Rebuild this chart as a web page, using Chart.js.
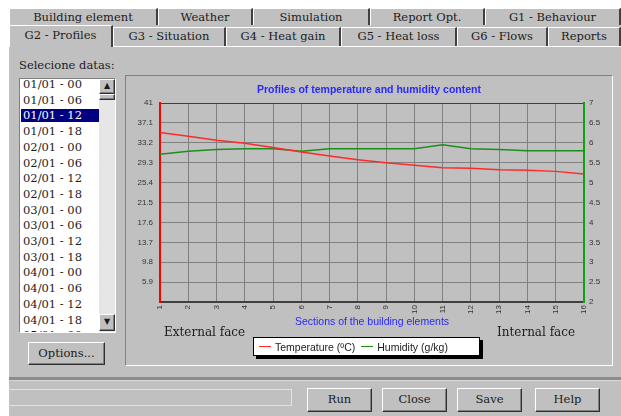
<!DOCTYPE html>
<html>
<head>
<meta charset="utf-8">
<script src="https://cdn.jsdelivr.net/npm/chart.js@4.4.1/dist/chart.umd.min.js"></script>
<style>
  body { margin: 0; width: 621px; height: 416px; background: #fff; position: relative; overflow: hidden;
         font-family: 'DejaVu Serif', serif; font-size: 12px; color: #1c1c1c; }
  .a { position: absolute; box-sizing: border-box; }
  #win { left: 9px; top: 8px; width: 612px; height: 408px; background: #c0c0c0; }
  .tab { position: absolute; box-sizing: border-box; border-left: 1px solid #fff; border-top: 1px solid #fff;
         border-right: 2px solid #404040; text-align: center; font-size: 11.5px; white-space: nowrap; }
  .btn { position: absolute; box-sizing: border-box; background: #c0c0c0; border: 1px solid;
         border-color: #fff #303030 #303030 #fff; box-shadow: inset -1px -1px 0 #808080;
         text-align: center; line-height: 21px; font-size: 11.5px; }
  #list { left: 19px; top: 78px; width: 97px; height: 255px; background: #fff; overflow: hidden;
          border: 1px solid; border-color: #808080 #fff #fff #808080; }
  .item { position: absolute; left: 1px; width: 77px; height: 13px; line-height: 13px; padding-left: 2px; font-size: 11.5px; }
  .item.sel { background: #000080; color: #fff; }
  #legend { left: 253px; top: 337px; width: 227px; height: 19px; background: #fff; border: 1px solid #000;
            box-shadow: 3px 3px 0 #000; display: flex; align-items: center; padding-left: 5px;
            font-family: 'Liberation Sans', sans-serif; font-size: 10.5px; color: #222; }
  #legend .sw { width: 12px; height: 1px; margin-right: 4px; }
  #legend .it { display: flex; align-items: center; margin-right: 6px; }
</style>
</head>
<body>
<div id="win" class="a"></div>
<div id="tabs"></div>
<div class="a" style="left:113px;top:46px;width:508px;height:1px;background:#fff"></div>

<div class="a" style="left:19px;top:58px;font-size:11.5px">Selecione datas:</div>
<div id="list" class="a"></div>
<div class="a" style="left:99px;top:79px;width:16px;height:253px;background:#e6e6e6"></div>
<div class="btn" style="left:99px;top:79px;width:16px;height:15px;line-height:12px;font-size:8px">&#9650;</div>
<div class="btn" style="left:99px;top:94px;width:16px;height:6px"></div>
<div class="btn" style="left:99px;top:314px;width:16px;height:17px;line-height:14px;font-size:8px">&#9660;</div>
<div class="btn" style="left:28px;top:342px;width:77px;height:23px">Options...</div>

<div class="a" style="left:125px;top:75px;width:488px;height:291px;border:1px solid;border-color:#808080 #fff #fff #808080"></div>
<canvas id="chart" class="a" width="484" height="286" style="left:127px;top:77px"></canvas>
<div class="a" style="left:164px;top:325px">External face</div>
<div class="a" style="left:497px;top:325px">Internal face</div>
<div id="legend" class="a"></div>

<div class="a" style="left:9px;top:377px;width:612px;height:3px;background:#8c8c8c"></div>
<div class="a" style="left:9px;top:380px;width:612px;height:1px;background:#d8d8d8"></div>
<div class="a" style="left:9px;top:389px;width:283px;height:17px;border:1px solid #e2e2e2;border-left:none"></div>
<div class="btn" style="left:307px;top:388px;width:65px;height:24px">Run</div>
<div class="btn" style="left:382px;top:388px;width:65px;height:24px">Close</div>
<div class="btn" style="left:457px;top:388px;width:65px;height:24px">Save</div>
<div class="btn" style="left:535px;top:388px;width:65px;height:24px">Help</div>

<script>
// chart data
const sections = ['1', '2', '3', '4', '5', '6', '7', '8', '9', '10', '11', '12', '13', '14', '15', '16'];
const temperature = [35.2, 34.5, 33.7, 33.1, 32.3, 31.4, 30.6, 29.9, 29.3, 28.8, 28.3, 28.2, 27.9, 27.8, 27.6, 27.1];
const humidity = [5.71, 5.79, 5.83, 5.85, 5.85, 5.79, 5.85, 5.85, 5.85, 5.85, 5.95, 5.85, 5.83, 5.80, 5.80, 5.80];
const tempTicks = [5.9, 9.8, 13.7, 17.6, 21.5, 25.4, 29.3, 33.2, 37.1, 41];
const humTicks = [2, 2.5, 3, 3.5, 4, 4.5, 5, 5.5, 6, 6.5, 7];

// window widgets
const tabsRow1 = [['Building element', 9, 158], ['Weather', 158, 253], ['Simulation', 253, 370],
                  ['Report Opt.', 370, 485], ['G1 - Behaviour', 485, 621]];
const tabsRow2 = [['G2 - Profiles', 9, 113], ['G3 - Situation', 113, 226], ['G4 - Heat gain', 226, 341],
                  ['G5 - Heat loss', 341, 457], ['G6 - Flows', 457, 548], ['Reports', 548, 621]];
const dates = ['01/01 - 00', '01/01 - 06', '01/01 - 12', '01/01 - 18', '02/01 - 00', '02/01 - 06',
               '02/01 - 12', '02/01 - 18', '03/01 - 00', '03/01 - 06', '03/01 - 12', '03/01 - 18',
               '04/01 - 00', '04/01 - 06', '04/01 - 12', '04/01 - 18', '05/01 - 00'];

const tabs = document.getElementById('tabs');
tabsRow1.forEach(function(t) {
    const d = document.createElement('div');
    d.className = 'tab';
    d.textContent = t[0];
    d.style.cssText = 'left:' + t[1] + 'px;width:' + (t[2] - t[1]) + 'px;top:8px;height:17px;line-height:16px';
    tabs.appendChild(d);
});
tabsRow2.forEach(function(t, i) {
    const d = document.createElement('div');
    d.className = 'tab';
    d.textContent = t[0];
    if (i === 0) {
        d.style.cssText = 'left:' + t[1] + 'px;width:' + (t[2] - t[1]) + 'px;top:25px;height:22px;line-height:19px;background:#c0c0c0;z-index:2';
    } else {
        d.style.cssText = 'left:' + t[1] + 'px;width:' + (t[2] - t[1]) + 'px;top:27px;height:19px;line-height:17px';
    }
    tabs.appendChild(d);
});

const list = document.getElementById('list');
dates.forEach(function(s, i) {
    const d = document.createElement('div');
    d.className = 'item' + (i === 2 ? ' sel' : '');
    d.textContent = s;
    d.style.top = (-1 + i * 15.7) + 'px';
    list.appendChild(d);
});

const plotFont = 'Liberation Sans';
const blue = '#2828ff';

const data = {
    labels: sections,
    datasets: [{
        label: 'Temperature (ºC)',
        data: temperature,
        yAxisID: 'yT',
        borderColor: '#ff2a2a',
        borderWidth: 1.5,
        pointRadius: 0,
        tension: 0
    }, {
        label: 'Humidity (g/kg)',
        data: humidity,
        yAxisID: 'yH',
        borderColor: '#1a8f1a',
        borderWidth: 1.5,
        pointRadius: 0,
        tension: 0
    }]
};

const options = {
    responsive: false,
    animation: false,
    devicePixelRatio: 1,
    layout: { padding: 0 },
    plugins: {
        legend: { display: false },
        tooltip: { enabled: false },
        title: {
            display: true,
            text: 'Profiles of temperature and humidity content',
            color: blue,
            font: { family: plotFont, size: 10.5, lineHeight: '12px' },
            padding: { top: 7, bottom: 7 }
        }
    },
    scales: {
        x: {
            offset: false,
            grid: {
                color: ctx => (ctx.index === 0 || ctx.index === sections.length - 1) ? 'rgba(0,0,0,0)' : '#808080',
                drawTicks: false
            },
            border: { color: '#404040', width: 2 },
            ticks: { minRotation: 90, maxRotation: 90, autoSkip: false, padding: 3,
                     color: '#333', font: { family: plotFont, size: 8 } },
            title: {
                display: true,
                text: 'Sections of the building elements',
                color: blue,
                font: { family: plotFont, size: 10.5, lineHeight: '12px' },
                padding: { top: 0, bottom: 35 }
            },
            afterFit: s => { s.height = 61; }
        },
        yT: {
            position: 'left',
            min: 2,
            max: 41,
            afterBuildTicks: s => { s.ticks = tempTicks.map(v => ({ value: v })); },
            grid: { color: ctx => (ctx.tick && ctx.tick.value === 41) ? '#404040' : '#808080', drawTicks: false },
            border: { color: '#ff0000', width: 2 },
            ticks: { padding: 7, color: '#333', font: { family: plotFont, size: 8 }, callback: v => String(v) },
            afterFit: s => { s.width = 33; }
        },
        yH: {
            position: 'right',
            min: 2,
            max: 7,
            afterBuildTicks: s => { s.ticks = humTicks.map(v => ({ value: v })); },
            grid: { drawOnChartArea: false, drawTicks: false },
            border: { color: '#10a010', width: 2 },
            ticks: { padding: 5, color: '#333', font: { family: plotFont, size: 8 }, callback: v => String(v) },
            afterFit: s => { s.width = 27; }
        }
    }
};

const chart = new Chart(document.getElementById('chart'), { type: 'line', data: data, options: options });

// legend box built from the datasets
const legend = document.getElementById('legend');
chart.data.datasets.forEach(function(ds) {
    const it = document.createElement('div');
    it.className = 'it';
    const sw = document.createElement('div');
    sw.className = 'sw';
    sw.style.background = ds.borderColor;
    const tx = document.createElement('span');
    tx.textContent = ds.label;
    it.appendChild(sw);
    it.appendChild(tx);
    legend.appendChild(it);
});
</script>
</body>
</html>
